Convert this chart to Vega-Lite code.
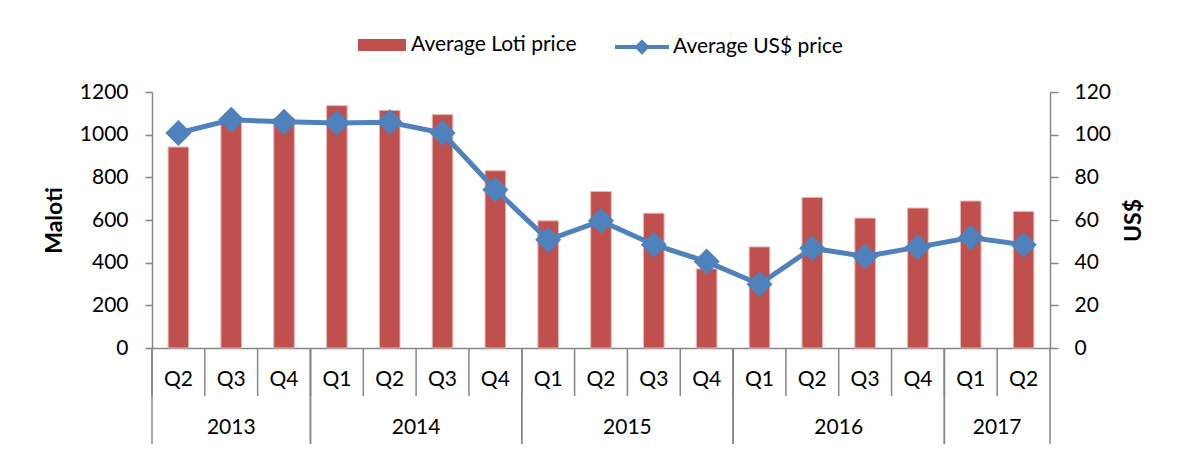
{
  "$schema": "https://vega.github.io/schema/vega-lite/v6.json",
  "padding": {"left": 43, "top": 33, "right": 5, "bottom": 5},
  "background": "white",
  "spacing": 0,
  "bounds": "flush",
  "config": {
    "font": "Lato",
    "view": {"stroke": null},
    "axis": {"labelFont": "Lato", "labelFontSize": 21, "labelColor": "#000000", "titleFont": "Lato", "titleFontSize": 23, "titleFontWeight": "bold", "titleColor": "#000000", "domainColor": "#868686", "tickColor": "#868686", "grid": false},
    "legend": {"labelFont": "Lato", "labelFontSize": 21, "labelColor": "#000000", "padding": 0, "labelLimit": 0}
  },
  "datasets": {
    "prices": [
      {"period": "2013 Q2", "quarter": "Q2", "year": "2013", "loti": 942, "usd": 100.8},
      {"period": "2013 Q3", "quarter": "Q3", "year": "2013", "loti": 1065, "usd": 107},
      {"period": "2013 Q4", "quarter": "Q4", "year": "2013", "loti": 1078, "usd": 106},
      {"period": "2014 Q1", "quarter": "Q1", "year": "2014", "loti": 1136, "usd": 105.5},
      {"period": "2014 Q2", "quarter": "Q2", "year": "2014", "loti": 1114, "usd": 105.8},
      {"period": "2014 Q3", "quarter": "Q3", "year": "2014", "loti": 1094, "usd": 100.8},
      {"period": "2014 Q4", "quarter": "Q4", "year": "2014", "loti": 831, "usd": 74.2},
      {"period": "2015 Q1", "quarter": "Q1", "year": "2015", "loti": 596, "usd": 50.7},
      {"period": "2015 Q2", "quarter": "Q2", "year": "2015", "loti": 734, "usd": 59.6},
      {"period": "2015 Q3", "quarter": "Q3", "year": "2015", "loti": 632, "usd": 48.4},
      {"period": "2015 Q4", "quarter": "Q4", "year": "2015", "loti": 371, "usd": 40.5},
      {"period": "2016 Q1", "quarter": "Q1", "year": "2016", "loti": 474, "usd": 29.9},
      {"period": "2016 Q2", "quarter": "Q2", "year": "2016", "loti": 706, "usd": 46.8},
      {"period": "2016 Q3", "quarter": "Q3", "year": "2016", "loti": 609, "usd": 42.9},
      {"period": "2016 Q4", "quarter": "Q4", "year": "2016", "loti": 656, "usd": 47.3},
      {"period": "2017 Q1", "quarter": "Q1", "year": "2017", "loti": 689, "usd": 51.8},
      {"period": "2017 Q2", "quarter": "Q2", "year": "2017", "loti": 640, "usd": 48.4}
    ],
    "years": [
      {"year": "2013", "first": "2013 Q2", "last": "2013 Q4", "mid": "2013 Q3", "odd": true},
      {"year": "2014", "first": "2014 Q1", "last": "2014 Q4", "mid": "2014 Q2", "odd": false},
      {"year": "2015", "first": "2015 Q1", "last": "2015 Q4", "mid": "2015 Q2", "odd": false},
      {"year": "2016", "first": "2016 Q1", "last": "2016 Q4", "mid": "2016 Q2", "odd": false},
      {"year": "2017", "first": "2017 Q1", "last": "2017 Q2", "mid": "2017 Q1", "odd": false}
    ]
  },
  "vconcat": [
    {
      "width": 898,
      "height": 256,
      "data": {"name": "prices"},
      "layer": [
        {
          "mark": {"type": "bar", "stroke": "#E6B9B8", "strokeWidth": 1},
          "encoding": {
            "x": {"field": "period", "type": "nominal", "sort": null,
              "scale": {"domain": ["2013 Q2","2013 Q3","2013 Q4","2014 Q1","2014 Q2","2014 Q3","2014 Q4","2015 Q1","2015 Q2","2015 Q3","2015 Q4","2016 Q1","2016 Q2","2016 Q3","2016 Q4","2017 Q1","2017 Q2"], "paddingInner": 0.61, "paddingOuter": 0.305},
              "axis": {"title": null, "labels": false, "ticks": false, "domain": true, "domainWidth": 1.5}},
            "y": {"field": "loti", "type": "quantitative", "scale": {"domain": [0, 1200]},
              "axis": {"orient": "left", "title": "Maloti", "format": "d", "values": [0, 200, 400, 600, 800, 1000, 1200], "tickSize": 7, "tickWidth": 1.5, "domainWidth": 1.5, "labelPadding": 17, "titlePadding": 13}},
            "fill": {"datum": "Average Loti price", "type": "nominal", "scale": {"range": ["#C0504D"]},
              "legend": {"title": null, "orient": "none", "legendX": 218, "legendY": -59, "symbolType": "M-2,-0.5H2V0.5H-2Z", "symbolSize": 576, "symbolStrokeWidth": 0, "labelOffset": 17}}
          }
        },
        {
          "layer": [
            {
              "mark": {"type": "line", "strokeWidth": 5},
              "encoding": {
                "x": {"field": "period", "type": "nominal", "sort": null},
                "y": {"field": "usd", "type": "quantitative", "scale": {"domain": [0, 120]},
                  "axis": {"orient": "right", "title": "US$", "titleAngle": -90, "format": "d", "values": [0, 20, 40, 60, 80, 100, 120], "tickSize": 8, "tickWidth": 1.5, "domainWidth": 1.5, "labelPadding": 16, "titlePadding": 35}},
                "stroke": {"datum": "Average US$ price", "type": "nominal", "scale": {"range": ["#4F81BD"]},
                  "legend": {"title": null, "orient": "none", "legendX": 476, "legendY": -59, "symbolType": "M-2.25,0H2.25M0,-0.4L0.4,0L0,0.4L-0.4,0Z", "symbolSize": 576, "symbolStrokeWidth": 4, "symbolFillColor": "#4F81BD", "labelOffset": 17}}
              }
            },
            {
              "mark": {"type": "point", "shape": "diamond", "filled": true, "size": 680, "color": "#4F81BD", "opacity": 1},
              "encoding": {
                "x": {"field": "period", "type": "nominal", "sort": null},
                "y": {"field": "usd", "type": "quantitative"}
              }
            }
          ]
        }
      ],
      "resolve": {"scale": {"y": "independent"}}
    },
    {
      "width": 898,
      "height": 96,
      "layer": [
        {
          "data": {"name": "prices"},
          "mark": {"type": "rule", "color": "#868686", "strokeWidth": 1.5},
          "encoding": {
            "x": {"field": "period", "type": "nominal", "bandPosition": 0,
              "scale": {"domain": ["2013 Q2","2013 Q3","2013 Q4","2014 Q1","2014 Q2","2014 Q3","2014 Q4","2015 Q1","2015 Q2","2015 Q3","2015 Q4","2016 Q1","2016 Q2","2016 Q3","2016 Q4","2017 Q1","2017 Q2"], "paddingInner": 0, "paddingOuter": 0},
              "axis": null},
            "y": {"datum": 0, "type": "quantitative", "scale": {"domain": [0, 2], "reverse": true}, "axis": null},
            "y2": {"datum": 1}
          }
        },
        {
          "data": {"name": "prices"},
          "mark": {"type": "text", "fontSize": 21, "font": "Lato", "color": "#000000", "baseline": "middle"},
          "encoding": {
            "x": {"field": "period", "type": "nominal"},
            "y": {"datum": 0.66, "type": "quantitative"},
            "text": {"field": "quarter"}
          }
        },
        {
          "data": {"name": "years"},
          "mark": {"type": "rule", "color": "#868686", "strokeWidth": 1.5},
          "encoding": {
            "x": {"field": "first", "type": "nominal", "bandPosition": 0},
            "y": {"datum": 0, "type": "quantitative"},
            "y2": {"datum": 2}
          }
        },
        {
          "data": {"name": "years"},
          "mark": {"type": "rule", "color": "#868686", "strokeWidth": 1.5},
          "encoding": {
            "x": {"field": "last", "type": "nominal", "bandPosition": 1},
            "y": {"datum": 0, "type": "quantitative"},
            "y2": {"datum": 2}
          }
        },
        {
          "data": {"name": "years"},
          "transform": [{"filter": "datum.odd"}],
          "mark": {"type": "text", "fontSize": 21, "font": "Lato", "color": "#000000", "baseline": "middle"},
          "encoding": {
            "x": {"field": "mid", "type": "nominal", "bandPosition": 0.5},
            "y": {"datum": 1.66, "type": "quantitative"},
            "text": {"field": "year"}
          }
        },
        {
          "data": {"name": "years"},
          "transform": [{"filter": "!datum.odd"}],
          "mark": {"type": "text", "fontSize": 21, "font": "Lato", "color": "#000000", "baseline": "middle"},
          "encoding": {
            "x": {"field": "mid", "type": "nominal", "bandPosition": 1},
            "y": {"datum": 1.66, "type": "quantitative"},
            "text": {"field": "year"}
          }
        }
      ]
    }
  ],
  "resolve": {"scale": {"x": "independent"}}
}
